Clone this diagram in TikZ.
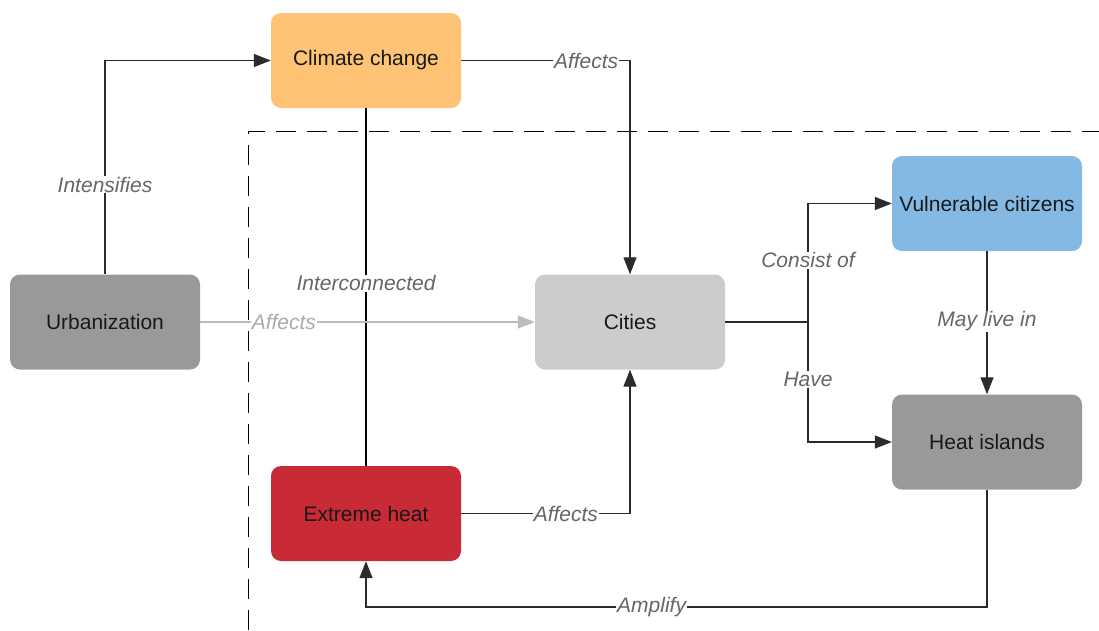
\documentclass[tikz,border=0pt]{standalone}
\usepackage{fontspec}
\setmainfont{Liberation Sans}
\usetikzlibrary{arrows.meta}
\definecolor{ccorange}{HTML}{FEC374}
\definecolor{heatred}{HTML}{C82A36}
\definecolor{citizenblue}{HTML}{83B9E3}
\definecolor{midgray}{HTML}{999999}
\definecolor{lightgray}{HTML}{CCCCCC}
\definecolor{linedark}{HTML}{2B2B2B}
\definecolor{labelgray}{HTML}{666666}
\definecolor{faintline}{HTML}{BBBBBB}
\definecolor{fainttext}{HTML}{AAAAAA}
\begin{document}
\begin{tikzpicture}[x=1pt,y=-1pt,
  box/.style={rounded corners=10pt, minimum width=190pt, minimum height=95pt,
    inner sep=0pt, text=black!90, font=\fontsize{21}{25}\selectfont},
  conn/.style={draw=linedark, line width=1.3pt,
    -{Triangle[length=17pt,width=13pt]}},
  plain/.style={draw=linedark, line width=1.3pt},
  lbl/.style={fill=white, inner sep=1pt, text=labelgray,
    font=\fontsize{21}{25}\selectfont\itshape},
  boundary/.style={draw=black, line width=1pt, dash pattern=on 20pt off 11pt}]
\useasboundingbox (0,0) rectangle (1099,630);

% outline of the city system
\draw[boundary] (248,630) -- (248,131) -- (1099,131);

% concepts
\node[box, fill=ccorange]     (cc)  at (366,60.5)  {Climate change};
\node[box, fill=midgray]      (urb) at (105,322)   {Urbanization};
\node[box, fill=lightgray]    (cit) at (630,322)   {Cities};
\node[box, fill=heatred]      (eh)  at (366,513.5) {Extreme heat};
\node[box, fill=citizenblue]  (vc)  at (987,203.5) {Vulnerable citizens};
\node[box, fill=midgray]      (hi)  at (987,442)   {Heat islands};

% junction points
\coordinate (split) at (808,322);
\coordinate (amp)   at (987,607);

% relations
\draw[conn] (urb.north) |- (cc.west) node[lbl, pos=0.21] {Intensifies};
\draw[conn] (cc.east) -| (cit.north) node[lbl, pos=0.37] {Affects};
\draw[plain, draw=black, line width=2pt] (cc.south) -- (eh.north) node[lbl, pos=0.49] {Interconnected};
\draw[conn, draw=faintline, -{Triangle[length=17pt,width=13pt,fill=faintline]}]
  (urb.east) -- (cit.west) node[lbl, text=fainttext, pos=0.25] {Affects};
\draw[conn] (eh.east) -| (cit.south) node[lbl, pos=0.31] {Affects};
\draw[plain] (cit.east) -- (split);
\draw[conn] (split) |- (vc.west) node[lbl, pos=0.26] {Consist of};
\draw[conn] (split) |- (hi.west) node[lbl, pos=0.24] {Have};
\draw[conn] (vc.south) -- (hi.north) node[lbl, pos=0.49] {May live in};
\draw[conn] (hi.south) -- (amp) -| (eh.south) node[lbl, pos=0.27] {Amplify};
\end{tikzpicture}
\end{document}
